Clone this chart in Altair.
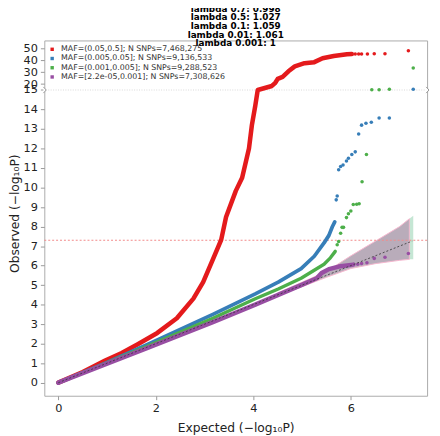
import altair as alt
import pandas as pd

R = 0.0608  # compression of the y scale above the break at 15
X_DOMAIN = [-0.288, 7.564]
Y_DOMAIN = [-0.67, 17.54]

labels = ["MAF=(0.05,0.5]; N SNPs=7,468,275",
          "MAF=(0.005,0.05]; N SNPs=9,136,533",
          "MAF=(0.001,0.005]; N SNPs=9,288,523",
          "MAF=[2.2e-05,0.001]; N SNPs=7,308,626"]
colors = ["#e41a1c", "#377eb8", "#4daf4a", "#984ea3"]
titles = ["lambda 0.7: 0.998", "lambda 0.5: 1.027", "lambda 0.1: 1.059",
          "lambda 0.01: 1.061", "lambda 0.001: 1"]

# dense parts of the QQ curves
red_x = [0, 0.5, 0.96, 1.3, 1.62, 2.03, 2.43, 2.77, 2.97, 3.17, 3.34, 3.44, 3.64, 3.77, 3.91,
         3.97, 4.04, 4.09, 4.38, 4.45, 4.5, 4.6, 4.72, 4.85, 5.05, 5.25, 5.42, 5.65, 5.92, 6.02]
red_y = [0, 0.55, 1.13, 1.52, 1.96, 2.55, 3.30, 4.31, 5.15, 6.32, 7.32, 8.49, 9.83, 10.5, 12.0,
         13.2, 14.2, 15.0, 18.4, 21.1, 24.4, 26.1, 30.8, 34.9, 37.6, 38.5, 41.8, 43.7, 45.1, 45.3]
blue_x = [0, 1, 1.83, 3.17, 4.04, 4.51, 4.98, 5.25, 5.45, 5.55, 5.62, 5.67]
blue_y = [0, 1.04, 1.96, 3.5, 4.55, 5.15, 5.85, 6.48, 7.16, 7.55, 7.99, 8.24]
green_x = [0, 1, 1.83, 3.17, 4.04, 4.51, 4.98, 5.45, 5.58, 5.68]
green_y = [0, 1.02, 1.88, 3.3, 4.3, 4.8, 5.35, 6.07, 6.4, 6.73]
purple_x = [0, 1, 1.83, 3.17, 4.04, 4.51, 4.98, 5.3, 5.4, 5.55, 5.75, 6.05]
purple_y = [0, 0.98, 1.78, 3.1, 4.0, 4.5, 5.0, 5.35, 5.62, 5.82, 5.95, 6.05]

# sparse tail points
red_px = [6.09, 6.16, 6.22, 6.34, 6.48, 6.70, 7.18]
red_py = [45.3, 45.3, 45.4, 45.4, 45.5, 45.5, 48.1]
blue_px = [5.70, 5.72, 5.75, 5.79, 5.84, 5.91, 5.95, 6.02, 6.09, 6.16, 6.22, 6.31, 6.42, 6.58, 6.79, 7.28]
blue_py = [9.37, 9.57, 10.91, 11.08, 11.16, 11.36, 11.5, 11.7, 11.83, 12.75, 13.2, 13.3, 13.35, 13.57, 13.57, 15.6]
green_px = [5.72, 5.75, 5.79, 5.82, 5.85, 5.91, 5.95, 6.0, 6.05, 6.12, 6.17, 6.23, 6.32, 6.43, 6.58, 6.79, 7.28]
green_py = [7.07, 7.24, 7.66, 7.96, 7.96, 8.46, 8.66, 8.8, 9.13, 9.15, 9.17, 10.3, 11.7, 15.2, 15.2, 15.6, 33.5]
purple_px = [6.14, 6.22, 6.33, 6.48, 6.70, 7.18]
purple_py = [6.07, 6.11, 6.15, 6.37, 6.43, 6.62]

# confidence band
band_x = [4.5, 5.0, 5.5, 6.0, 6.5, 7.0, 7.2]
band_lo = [4.45, 4.92, 5.4, 5.85, 6.1, 6.27, 6.32]
band_hi = [4.6, 5.15, 5.7, 6.5, 7.25, 8.0, 8.4]
gband_x = [7.2, 7.28]
gband_lo = [6.32, 6.32]
gband_hi = [8.4, 8.55]

diag_x = [0, 7.26]
sig_y = 7.30
break_y = 15

curves = [(red_x, red_y), (blue_x, blue_y), (green_x, green_y), (purple_x, purple_y)]
tails = [(red_px, red_py), (blue_px, blue_py), (green_px, green_py), (purple_px, purple_py)]
widths = [4.6, 3.8, 3.4, 4.6]

yt_expr = f"datum.y <= 15 ? datum.y : 15 + (datum.y - 15) * {R}"

tick_vals = list(range(16)) + [15 + (v - 15) * R for v in (20, 30, 40, 50)]
label_expr = (f"datum.value <= 15.01 ? format(datum.value, 'd') : "
              f"format(round(15 + (datum.value - 15) / {R}), 'd')")

XS = alt.Scale(domain=X_DOMAIN, nice=False, zero=False)
YS = alt.Scale(domain=Y_DOMAIN, nice=False, zero=False)
XAX = alt.Axis(values=[0, 2, 4, 6], title="Expected  (−log₁₀P)", grid=False, domain=False,
               tickColor="#999", tickSize=4, labelFontSize=11.5, labelColor="#222",
               titleFontSize=12.5, titleFontWeight="normal", titleColor="#222",
               titlePadding=8, labelFlush=False, labelPadding=3)
YAX = alt.Axis(values=tick_vals, labelExpr=label_expr, title="Observed  (−log₁₀P)",
               grid=False, domain=False, tickColor="#999", tickSize=4, labelFontSize=11.5,
               labelColor="#222", titleFontSize=12.5, titleFontWeight="normal",
               titleColor="#222", labelOverlap=False, labelFlush=False, labelPadding=3,
               titleX=-23, titleY=176)


def X(f):
    return alt.X(f, scale=XS, axis=XAX)


def Y(f):
    return alt.Y(f, scale=YS, axis=YAX)


band_df = pd.DataFrame({"x": band_x, "lo": band_lo, "hi": band_hi})
gband_df = pd.DataFrame({"x": gband_x, "lo": gband_lo, "hi": gband_hi})

layers = []
layers.append(alt.Chart(gband_df).mark_area(color="#bfe3cf", opacity=0.9).encode(
    x=X("x:Q"), y=Y("lo:Q"), y2="hi:Q"))
layers.append(alt.Chart(band_df).mark_area(color="#a898aa", opacity=0.8, stroke="#f4a6c4",
                                           strokeWidth=1).encode(
    x=X("x:Q"), y=Y("lo:Q"), y2="hi:Q"))
layers.append(alt.Chart(pd.DataFrame({"y": [sig_y]})).mark_rule(
    color="#f28a8a", strokeDash=[2, 2], strokeWidth=1.2).encode(y=Y("y:Q")))
layers.append(alt.Chart(pd.DataFrame({"y": [break_y]})).mark_rule(
    color="#d8d8d8", strokeDash=[1, 1.5], strokeWidth=1).encode(y=Y("y:Q")))

for (cx, cy), col, w in zip(curves, colors, widths):
    df = pd.DataFrame({"x": cx, "y": cy})
    layers.append(alt.Chart(df).transform_calculate(yt=yt_expr).mark_line(
        color=col, strokeWidth=w, strokeCap="round", strokeJoin="round").encode(
        x=X("x:Q"), y=Y("yt:Q"), order="x:Q"))

rows = []
for (px, py), lab in zip(tails, labels):
    for a, b in zip(px, py):
        rows.append({"series": lab, "x": a, "y": b})
pts_df = pd.DataFrame(rows)
layers.append(alt.Chart(pts_df).transform_calculate(yt=yt_expr).mark_circle(
    size=13, opacity=1).encode(
    x=X("x:Q"), y=Y("yt:Q"),
    color=alt.Color("series:N", scale=alt.Scale(domain=labels, range=colors),
                    legend=alt.Legend(orient="none", legendX=4, legendY=5, title=None,
                                      symbolType="square", symbolSize=12,
                                      labelFontSize=8, labelColor="#333", labelLimit=0,
                                      rowPadding=1.4, labelOffset=5, padding=0,
                                      symbolStrokeWidth=0))))

layers.append(alt.Chart(pd.DataFrame({"x": diag_x, "y": diag_x})).mark_line(
    color="#333", strokeDash=[2, 2], strokeWidth=0.8).encode(x=X("x:Q"), y=Y("y:Q")))

layers.append(alt.Chart(pd.DataFrame({"x": X_DOMAIN, "y": [break_y, break_y]})).mark_point(
    shape="M-0.3,-1L0.6,0L-0.3,1", filled=True, fill="white", stroke="#999",
    strokeWidth=1, size=40, opacity=1).encode(x=X("x:Q"), y=Y("y:Q")))

chart = alt.layer(*layers).properties(
    width=390, height=362,
    padding={"left": 37, "top": 29, "right": 5, "bottom": 40},
    autosize=alt.AutoSizeParams(type="none"),
    title=alt.TitleParams(text=titles, fontSize=9, fontWeight="bold", font="DejaVu Sans",
                          lineHeight=8.8, anchor="middle", offset=-8, color="black"),
).configure(font="DejaVu Sans").configure_view(stroke="#aaaaaa", strokeWidth=1)

chart.save("out.html", embed_options={"renderer": "svg", "actions": False})
